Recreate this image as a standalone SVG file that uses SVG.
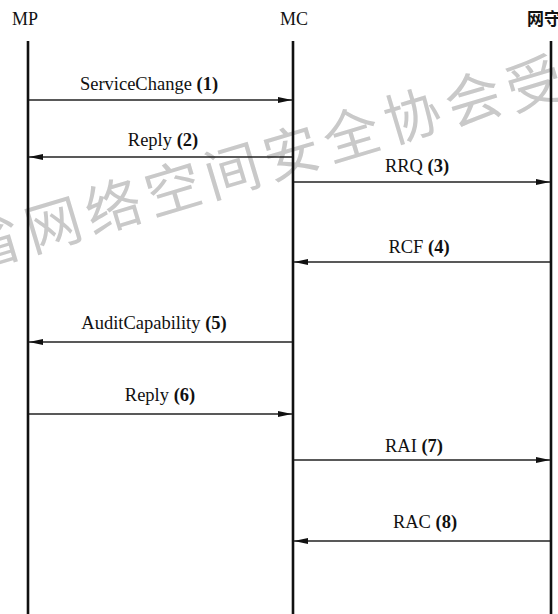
<svg xmlns="http://www.w3.org/2000/svg" width="558" height="614" viewBox="0 0 558 614">
<style>
.wm{font-family:"Noto Sans CJK SC","Noto Sans",sans-serif;font-size:56px;fill:#c9c9c9;text-anchor:middle;dominant-baseline:central}
.hd{font-family:"Liberation Serif",serif;font-size:18px;fill:#111}
.hdc{font-family:"Noto Sans CJK SC",sans-serif;font-size:17px;font-weight:bold;fill:#111}
.lbl{font-family:"Liberation Serif",serif;font-size:18.5px;fill:#111;text-anchor:middle}
.lbl tspan{font-weight:bold}
.life{stroke:#111;stroke-width:2.6;fill:none}
.msg{stroke:#222;stroke-width:1.3;fill:none}
</style>
<defs>
<marker id="ah" viewBox="0 0 14 8" refX="14" refY="4" markerWidth="14" markerHeight="8" markerUnits="userSpaceOnUse" orient="auto">
<path d="M0,1 L14,4 L0,7 Z" fill="#111"/>
</marker>
</defs>
<rect width="558" height="614" fill="#fff"/>
<g id="watermark">
<text class="wm" transform="translate(-8,239) rotate(-16.7)">省</text>
<text class="wm" transform="translate(52,221) rotate(-16.7)">网</text>
<text class="wm" transform="translate(112,203) rotate(-16.7)">络</text>
<text class="wm" transform="translate(172,185) rotate(-16.7)">空</text>
<text class="wm" transform="translate(231,167) rotate(-16.7)">间</text>
<text class="wm" transform="translate(290,149) rotate(-16.7)">安</text>
<text class="wm" transform="translate(350,131) rotate(-16.7)">全</text>
<text class="wm" transform="translate(411,112) rotate(-16.7)">协</text>
<text class="wm" transform="translate(472,95) rotate(-16.7)">会</text>
<text class="wm" transform="translate(533,80) rotate(-16.7)">受</text>
</g>
<g id="node-MP">
<text class="hd" x="12" y="25">MP</text>
<line class="life" x1="28" y1="41" x2="28" y2="614"/>
</g>
<g id="node-MC">
<text class="hd" x="294" y="25" text-anchor="middle">MC</text>
<line class="life" x1="293" y1="41" x2="293" y2="614"/>
</g>
<g id="node-GK">
<text class="hdc" x="527" y="25">网守</text>
<line class="life" x1="551" y1="41" x2="551" y2="614"/>
</g>
<g id="connectors">
<line class="msg" x1="29" y1="100" x2="292" y2="100" marker-end="url(#ah)"/>
<text class="lbl" x="149" y="90">ServiceChange <tspan>(1)</tspan></text>
<line class="msg" x1="292" y1="157" x2="29" y2="157" marker-end="url(#ah)"/>
<text class="lbl" x="163" y="146">Reply <tspan>(2)</tspan></text>
<line class="msg" x1="294" y1="182" x2="550" y2="182" marker-end="url(#ah)"/>
<text class="lbl" x="417" y="172">RRQ <tspan>(3)</tspan></text>
<line class="msg" x1="550" y1="262" x2="294" y2="262" marker-end="url(#ah)"/>
<text class="lbl" x="419" y="253">RCF <tspan>(4)</tspan></text>
<line class="msg" x1="292" y1="342" x2="29" y2="342" marker-end="url(#ah)"/>
<text class="lbl" x="154" y="329">AuditCapability <tspan>(5)</tspan></text>
<line class="msg" x1="29" y1="414" x2="292" y2="414" marker-end="url(#ah)"/>
<text class="lbl" x="160" y="401">Reply <tspan>(6)</tspan></text>
<line class="msg" x1="294" y1="460" x2="550" y2="460" marker-end="url(#ah)"/>
<text class="lbl" x="414" y="452">RAI <tspan>(7)</tspan></text>
<line class="msg" x1="550" y1="541" x2="294" y2="541" marker-end="url(#ah)"/>
<text class="lbl" x="425" y="528">RAC <tspan>(8)</tspan></text>
</g>
</svg>
